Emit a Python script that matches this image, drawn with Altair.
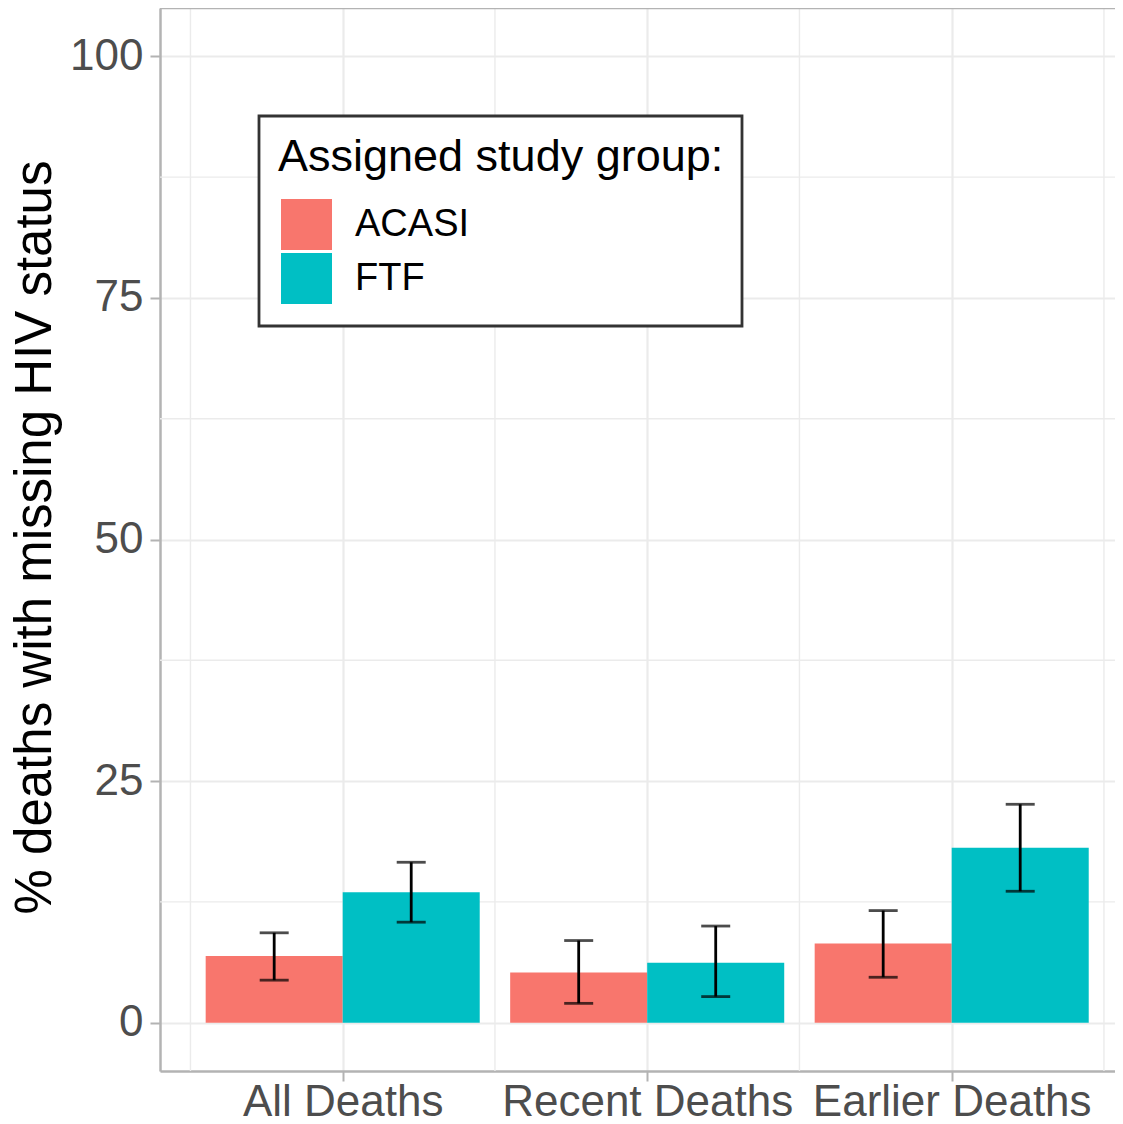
import altair as alt
import pandas as pd

categories = ["All Deaths", "Recent Deaths", "Earlier Deaths"]
groups = ["ACASI", "FTF"]
acasi_pct = [6.9, 5.2, 8.2]
acasi_lo = [4.4, 2.0, 4.7]
acasi_hi = [9.3, 8.5, 11.6]
ftf_pct = [13.5, 6.2, 18.1]
ftf_lo = [10.4, 2.7, 13.6]
ftf_hi = [16.6, 10.0, 22.6]
y_ticks = [0, 25, 50, 75, 100]
y_minor = [12.5, 37.5, 62.5, 87.5]
x_minor = [0.5, 1.5, 2.5, 3.5]
colors = ["#F8766D", "#00BFC4"]

rows = []
for i, c in enumerate(categories):
    rows.append({"cat": c, "group": "ACASI", "pct": acasi_pct[i], "lo": acasi_lo[i], "hi": acasi_hi[i]})
    rows.append({"cat": c, "group": "FTF", "pct": ftf_pct[i], "lo": ftf_lo[i], "hi": ftf_hi[i]})
df = pd.DataFrame(rows)

FONT = "Liberation Sans"
GRID = "#EBEBEB"
BORDER = "#B3B3B3"
W, H = 955, 1063

cat_list = "[" + ",".join("'" + c + "'" for c in categories) + "]"
xscale = alt.Scale(domain=[0.4, 0.4 + 955 / 304.5], nice=False, zero=False)
yscale = alt.Scale(domain=[-5, 105], nice=False, zero=False)

base = alt.Chart(df).transform_calculate(
    idx=f"indexof({cat_list}, datum.cat) + 1"
).transform_calculate(
    xc="datum.idx + (datum.group == 'ACASI' ? -0.225 : 0.225)",
    x0="datum.xc - 0.225",
    x1="datum.xc + 0.225",
)

xaxis = alt.Axis(
    values=[1, 2, 3],
    labelExpr=f"{cat_list}[datum.value - 1]",
    title=None,
    grid=True, gridColor=GRID, gridWidth=2.2,
    domain=True, domainColor=BORDER, domainWidth=2.5,
    ticks=True, tickColor=BORDER, tickWidth=2, tickSize=10,
    labelFont=FONT, labelFontSize=44, labelColor="#4D4D4D",
    labelBaseline="alphabetic", labelPadding=34,
    labelOverlap=False, labelBound=False, labelFlush=False, labelLimit=1000,
)
yaxis = alt.Axis(
    values=y_ticks,
    title="% deaths with missing HIV status",
    titleFont=FONT, titleFontSize=51, titleFontWeight="normal", titleColor="#000000",
    titleAngle=-90, titleX=-110, titleY=529, titleAlign="center", titleBaseline="alphabetic",
    titleLimit=2000,
    grid=True, gridColor=GRID, gridWidth=2.2,
    domain=True, domainColor=BORDER, domainWidth=2.5,
    ticks=True, tickColor=BORDER, tickWidth=2, tickSize=10,
    labelFont=FONT, labelFontSize=44, labelColor="#4D4D4D", labelPadding=7,
)

minor_x = alt.Chart(pd.DataFrame({"v": x_minor})).mark_rule(color=GRID, strokeWidth=1.4).encode(
    x=alt.X("v:Q", scale=xscale, axis=xaxis)
)
minor_y = alt.Chart(pd.DataFrame({"v": y_minor})).mark_rule(color=GRID, strokeWidth=1.4).encode(
    y=alt.Y("v:Q", scale=yscale, axis=yaxis)
)
top_border = alt.Chart(pd.DataFrame({"v": [105]})).mark_rule(color=BORDER, strokeWidth=2.5).encode(
    y=alt.Y("v:Q", scale=yscale)
)

# legend frame (decoration behind the legend)
legend_frame = alt.Chart(pd.DataFrame({"k": [0]})).mark_rect(
    fill="#FFFFFF", stroke="#333333", strokeWidth=2.8
).encode(
    x=alt.value(99), x2=alt.value(582), y=alt.value(108), y2=alt.value(318)
)

bars = base.mark_bar(strokeWidth=0).encode(
    x=alt.X("x0:Q", scale=xscale, axis=xaxis),
    x2="x1:Q",
    y=alt.Y("pct:Q", scale=yscale, axis=yaxis),
    y2=alt.datum(0),
    color=alt.Color(
        "group:N",
        scale=alt.Scale(domain=groups, range=colors),
        legend=alt.Legend(
            title="Assigned study group:",
            orient="none", legendX=99, legendY=108,
            symbolType="square", symbolSize=2601, symbolStrokeWidth=0, symbolOpacity=1,
            symbolOffset=3,
            labelFont=FONT, labelFontSize=38, labelColor="#000000", labelOffset=23,
            titleFont=FONT, titleFontSize=45, titleFontWeight="normal", titleColor="#000000",
            titlePadding=19, titleLimit=1000, labelLimit=1000,
            padding=19, rowPadding=3,
        ),
    ),
)

err = base.mark_rule(color="#000000", strokeWidth=2.8).encode(
    x="xc:Q", y="lo:Q", y2="hi:Q"
)
caps_lo = base.mark_tick(color="#000000", orient="horizontal", size=29, thickness=2.8).encode(
    x="xc:Q", y="lo:Q"
)
caps_hi = base.mark_tick(color="#000000", orient="horizontal", size=29, thickness=2.8).encode(
    x="xc:Q", y="hi:Q"
)

chart = alt.layer(minor_x, minor_y, top_border, legend_frame, bars, err, caps_lo, caps_hi).properties(
    width=W, height=H,
    autosize=alt.AutoSizeParams(type="none"),
    padding={"left": 152, "top": 0, "right": 0, "bottom": 52},
).configure_view(stroke="transparent").configure(
    font=FONT, background="#FFFFFF"
)

chart.save("out.html", embed_options={"renderer": "svg", "actions": False})
